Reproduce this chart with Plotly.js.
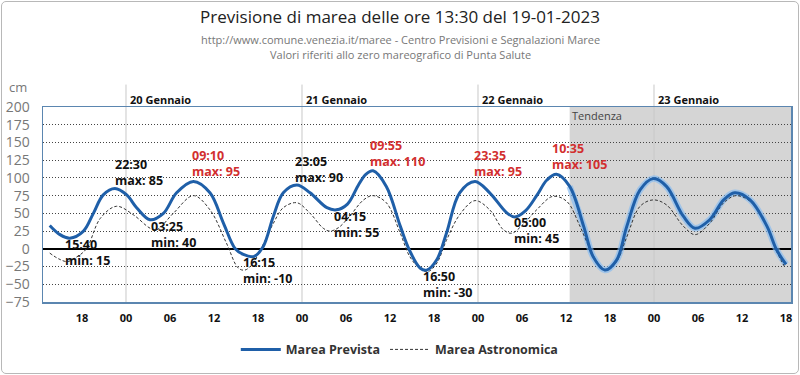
<!DOCTYPE html>
<html><head><meta charset="utf-8">
<script src="https://cdn.plot.ly/plotly-3.0.1.min.js"></script>
<style>
html,body{margin:0;padding:0;background:#fff;}
#wrap{position:relative;width:800px;height:375px;}
#chart{width:800px;height:375px;}
#frame{position:absolute;left:1px;top:1px;width:796px;height:371px;border:1px solid #b8b8b8;border-radius:5px;pointer-events:none;}
</style></head>
<body><div id="wrap"><div id="chart"></div><div id="frame"></div></div>
<script>
// Marea Prevista (cm)
const tPrevista = ['2023-01-19 13:36','2023-01-19 15:00','2023-01-19 16:20','2023-01-19 18:12','2023-01-19 19:33','2023-01-19 20:54','2023-01-19 22:30','2023-01-20 00:06','2023-01-20 01:27','2023-01-20 03:16','2023-01-20 05:06','2023-01-20 06:54','2023-01-20 09:12','2023-01-20 11:27','2023-01-20 13:18','2023-01-20 14:54','2023-01-20 16:00','2023-01-20 17:24','2023-01-20 18:42','2023-01-20 20:06','2023-01-20 21:27','2023-01-20 23:18','2023-01-21 01:06','2023-01-21 03:24','2023-01-21 04:42','2023-01-21 06:12','2023-01-21 07:42','2023-01-21 08:42','2023-01-21 09:42','2023-01-21 11:30','2023-01-21 13:24','2023-01-21 14:42','2023-01-21 16:06','2023-01-21 17:00','2023-01-21 18:24','2023-01-21 19:42','2023-01-21 21:30','2023-01-21 23:36','2023-01-22 01:36','2023-01-22 03:54','2023-01-22 05:00','2023-01-22 06:30','2023-01-22 08:00','2023-01-22 09:24','2023-01-22 10:42','2023-01-22 12:30','2023-01-22 14:24','2023-01-22 15:42','2023-01-22 17:18','2023-01-22 18:54','2023-01-22 20:18','2023-01-22 22:06','2023-01-22 23:54','2023-01-23 01:42','2023-01-23 04:00','2023-01-23 05:36','2023-01-23 07:36','2023-01-23 09:30','2023-01-23 11:00','2023-01-23 13:06','2023-01-23 15:24','2023-01-23 16:42','2023-01-23 18:00'];
const vPrevista = [33,20,15,25,50,76,85,76,58,41,50,79,95,79,36,0,-8,-11,3,46,79,90,79,58,55,63,90,105,110,88,32,-3,-27,-30,-15,22,79,95,79,51,45,54,75,97,105,88,32,-11,-30,-16,32,83,99,88,46,29,41,69,79,69,32,-1,-22];

// Marea Astronomica (cm)
const tAstro = ['2023-01-19 13:36','2023-01-19 14:48','2023-01-19 16:00','2023-01-19 17:12','2023-01-19 18:36','2023-01-19 20:30','2023-01-19 22:42','2023-01-20 01:00','2023-01-20 03:18','2023-01-20 04:12','2023-01-20 06:27','2023-01-20 09:12','2023-01-20 11:27','2023-01-20 13:42','2023-01-20 15:18','2023-01-20 16:12','2023-01-20 17:12','2023-01-20 18:42','2023-01-20 20:06','2023-01-20 21:27','2023-01-20 23:18','2023-01-21 01:06','2023-01-21 02:54','2023-01-21 03:48','2023-01-21 05:00','2023-01-21 06:30','2023-01-21 08:24','2023-01-21 09:42','2023-01-21 11:30','2023-01-21 13:24','2023-01-21 14:42','2023-01-21 16:06','2023-01-21 17:12','2023-01-21 18:24','2023-01-21 19:42','2023-01-21 21:30','2023-01-21 23:36','2023-01-22 01:36','2023-01-22 03:27','2023-01-22 04:36','2023-01-22 06:12','2023-01-22 08:00','2023-01-22 10:12','2023-01-22 12:06','2023-01-22 13:54','2023-01-22 15:18','2023-01-22 16:30','2023-01-22 17:30','2023-01-22 18:54','2023-01-22 20:18','2023-01-22 22:06','2023-01-22 23:54','2023-01-23 01:42','2023-01-23 04:00','2023-01-23 05:36','2023-01-23 07:36','2023-01-23 09:30','2023-01-23 11:12','2023-01-23 13:06','2023-01-23 15:24','2023-01-23 16:42','2023-01-23 17:54'];
const vAstro = [-6,-14,-18,-12,0,43,60,48,29,27,50,75,55,8,-27,-30,-22,6,36,58,65,50,29,25,30,46,69,75,65,22,-11,-28,-32,-20,12,48,68,55,27,22,35,55,74,67,32,-1,-22,-30,-18,17,60,69,62,32,20,36,65,75,67,32,-3,-27];

// Extreme labels
const extTime  = ['2023-01-19 15:24','2023-01-19 22:14','2023-01-20 08:44','2023-01-20 03:08','2023-01-20 22:46','2023-01-21 09:00','2023-01-21 04:06','2023-01-20 15:41','2023-01-21 16:14','2023-01-21 23:11','2023-01-22 04:38','2023-01-22 09:49'];
const extLevel = [-5,108,120,20.5,112,135,34,-30,-50,121,25.5,130];
const extText  = ['15:40<br>min: 15','22:30<br>max: 85','09:10<br>max: 95','03:25<br>min: 40','23:05<br>max: 90','09:55<br>max: 110','04:15<br>min: 55','16:15<br>min: -10','16:50<br>min: -30','23:35<br>max: 95','05:00<br>min: 45','10:35<br>max: 105'];
const extRed   = [false,false,true,false,false,true,false,false,false,true,false,true];

const dayStarts = ['2023-01-20 00:00','2023-01-21 00:00','2023-01-22 00:00','2023-01-23 00:00'];
const dayLabels = ['20 Gennaio','21 Gennaio','22 Gennaio','23 Gennaio'];
const yTicks = [-75,-50,-25,0,25,50,75,100,125,150,175,200];
const tendenzaStart = '2023-01-22 12:30';
const xRange = ['2023-01-19 12:41','2023-01-23 18:41'];

const FONT = 'Open Sans, Noto Sans, sans-serif';
const BLUE = '#1f5fa8';

const glowT = [], glowV = [];
tPrevista.forEach((t,i)=>{ if (t >= '2023-01-22 12:00') { glowT.push(t); glowV.push(vPrevista[i]); } });

const traces = [
  {x: glowT, y: glowV, mode:'lines', line:{color:'rgba(125,185,245,0.6)', width:6.5, shape:'spline', smoothing:1}, showlegend:false, hoverinfo:'skip'},
  {x: tAstro, y: vAstro, name:'Marea Astronomica', mode:'lines', line:{color:'#333', width:1, dash:'3px,2px', shape:'spline', smoothing:1}},
  {x: tPrevista, y: vPrevista, name:'Marea Prevista', mode:'lines', line:{color:BLUE, width:3, shape:'spline', smoothing:1}}
];

const shapes = [
  {type:'rect', xref:'x', yref:'paper', x0:tendenzaStart, x1:xRange[1], y0:0, y1:1, fillcolor:'#d5d5d5', line:{width:0}, layer:'below'}
];
dayStarts.forEach(d => shapes.push({type:'line', xref:'x', yref:'paper', x0:d, x1:d, y0:0, y1:1.115, line:{color:'#c8c8c8', width:1}, layer:'below'}));

const annotations = [];
dayLabels.forEach((l,i) => annotations.push({xref:'x', yref:'paper', x:dayStarts[i], y:1.036, xanchor:'left', yanchor:'middle', xshift:2, text:l, showarrow:false, font:{family:FONT, size:11, color:'#111', weight:'bold'}}));
extText.forEach((t,i) => annotations.push({xref:'x', yref:'y', x:extTime[i], y:extLevel[i], xanchor:'left', yanchor:'middle', align:'left', text:t, showarrow:false, font:{family:FONT, size:12.5, color: extRed[i] ? '#d22f2f' : '#111', weight:'bold'}}));
annotations.push({xref:'x', yref:'y', x:tendenzaStart, y:188, xanchor:'left', yanchor:'middle', xshift:0, text:'Tendenza', showarrow:false, font:{family:FONT, size:11, color:'#444'}});
annotations.push({xref:'paper', yref:'paper', x:-0.033, y:1.1, xanchor:'center', yanchor:'middle', text:'cm', showarrow:false, font:{family:FONT, size:13, color:'#777'}});
annotations.push({xref:'paper', yref:'paper', x:0.478, y:1.345, xanchor:'center', yanchor:'middle', text:'http://www.comune.venezia.it/maree - Centro Previsioni e Segnalazioni Maree', showarrow:false, font:{family:FONT, size:11, color:'#777'}});
annotations.push({xref:'paper', yref:'paper', x:0.478, y:1.268, xanchor:'center', yanchor:'middle', text:'Valori riferiti allo zero mareografico di Punta Salute', showarrow:false, font:{family:FONT, size:11, color:'#777'}});

const layout = {
  width:800, height:375,
  margin:{l:43, r:9, t:107, b:73},
  paper_bgcolor:'#fff', plot_bgcolor:'#fff',
  title:{text:'Previsione di marea delle ore 13:30 del 19-01-2023', x:0.5, xanchor:'center', y:0.955, yanchor:'middle', font:{family:FONT, size:17, color:'#222'}},
  xaxis:{type:'date', range:xRange, tick0:'2023-01-19 18:00', dtick:6*3600*1000, tickformat:'%H', showgrid:false, zeroline:false,
         showline:true, linecolor:'#5b86b0', linewidth:1.5, mirror:true, ticks:'outside', ticklen:5, tickcolor:'rgba(0,0,0,0)',
         tickfont:{family:FONT, size:11, color:'#111', weight:'bold'}},
  yaxis:{range:[-75,200], tickvals:yTicks, showgrid:true, gridcolor:'#444', griddash:'1px,2px', gridwidth:1,
         zeroline:true, zerolinecolor:'#000', zerolinewidth:2.5,
         showline:true, linecolor:'#5b86b0', linewidth:1.5, mirror:true, ticks:'outside', ticklen:9, tickcolor:'rgba(0,0,0,0)',
         tickfont:{family:FONT, size:14, color:'#777'}},
  legend:{orientation:'h', x:0.477, xanchor:'center', y:-0.245, yanchor:'middle', traceorder:'reversed', font:{family:FONT, size:12.5, color:'#333', weight:'bold'}, itemwidth:40},
  shapes:shapes, annotations:annotations, showlegend:true
};
Plotly.newPlot('chart', traces, layout, {displayModeBar:false, staticPlot:true});
</script></body></html>
